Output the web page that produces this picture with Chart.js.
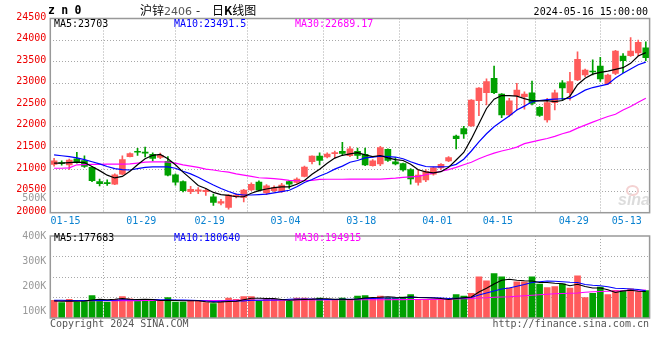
<!DOCTYPE html>
<html><head><meta charset="utf-8">
<script src="https://cdn.jsdelivr.net/npm/chart.js@4"></script>
<style>
html,body{margin:0;padding:0;background:#fff;}
body{width:660px;height:360px;overflow:hidden;position:relative;font-family:"DejaVu Sans Mono",monospace;}
canvas{position:absolute;left:0;}
#c1{top:0;}
#c2{top:226px;}
.t{position:absolute;white-space:pre;font-size:10px;line-height:12px;font-family:"DejaVu Sans Mono",monospace;}
#eye{position:absolute;left:626px;top:185px;width:9px;height:7px;border:2px solid #f4d2d2;border-radius:50%;}
</style></head><body>
<canvas id="c1" width="660" height="230"></canvas>
<canvas id="c2" width="660" height="134"></canvas>
<div id="eye"></div>
<div class="t" style="left:48px;top:3.5px;font-size:11.5px;line-height:13px;font-weight:bold;letter-spacing:-0.3px;">z n 0</div>
<div class="t" style="left:140px;top:3px;font-size:12px;line-height:14px;font-family:'Noto Sans CJK SC';">沪锌<span style="color:#555;font-family:'DejaVu Sans';font-size:11px;">2406</span></div>
<div class="t" style="left:196px;top:3px;font-size:12px;line-height:14px;font-family:'Noto Sans CJK SC';">-</div>
<div class="t" style="left:212px;top:3px;font-size:12px;line-height:14px;font-family:'Noto Sans CJK SC';">日<b>K</b>线图</div>
<div class="t" style="right:12px;top:6px;">2024-05-16 15:00:00</div>
<div class="t" style="left:54px;top:17.5px;color:#000;">MA5:23703</div>
<div class="t" style="left:174px;top:17.5px;color:#0000ff;">MA10:23491.5</div>
<div class="t" style="left:295px;top:17.5px;color:#ff00ff;">MA30:22689.17</div>
<div class="t" style="left:54px;top:232.3px;color:#000;">MA5:177683</div>
<div class="t" style="left:174px;top:232.3px;color:#0000ff;">MA10:180640</div>
<div class="t" style="left:295px;top:232.3px;color:#ff00ff;">MA30:194915</div>
<div class="t" style="left:50px;top:317.5px;color:#555;">Copyright 2024 SINA.COM</div>
<div class="t" style="right:11px;top:317.5px;color:#555;">http://finance.sina.com.cn</div>
<div class="t" style="left:618px;top:191px;font-family:'Liberation Sans';font-size:16px;line-height:18px;font-weight:bold;font-style:italic;color:#dcdcdc;">sina</div>
<script>
const dates = ['2024-01-12','2024-01-15','2024-01-16','2024-01-17','2024-01-18','2024-01-19','2024-01-22','2024-01-23','2024-01-24','2024-01-25',
'2024-01-26','2024-01-29','2024-01-30','2024-01-31','2024-02-01','2024-02-02','2024-02-05','2024-02-06','2024-02-07','2024-02-08',
'2024-02-19','2024-02-20','2024-02-21','2024-02-22','2024-02-23','2024-02-26','2024-02-27','2024-02-28','2024-02-29','2024-03-01',
'2024-03-04','2024-03-05','2024-03-06','2024-03-07','2024-03-08','2024-03-11','2024-03-12','2024-03-13','2024-03-14','2024-03-15',
'2024-03-18','2024-03-19','2024-03-20','2024-03-21','2024-03-22','2024-03-25','2024-03-26','2024-03-27','2024-03-28','2024-03-29',
'2024-04-01','2024-04-02','2024-04-03','2024-04-08','2024-04-09','2024-04-10','2024-04-11','2024-04-12','2024-04-15','2024-04-16',
'2024-04-17','2024-04-18','2024-04-19','2024-04-22','2024-04-23','2024-04-24','2024-04-25','2024-04-26','2024-04-29','2024-04-30',
'2024-05-06','2024-05-07','2024-05-08','2024-05-09','2024-05-10','2024-05-13','2024-05-14','2024-05-15','2024-05-16'];

const open = [21120,21160,21110,21250,21210,21050,20720,20700,20660,20890,
21300,21420,21400,21350,21280,21190,20880,20720,20490,20500,
20490,20370,20220,20120,20370,20355,20525,20710,20460,20510,
20490,20720,20700,20840,21180,21310,21290,21370,21420,21320,
21420,21350,21090,21130,21470,21180,21140,21000,20700,20760,
20890,21035,21200,21775,21950,22010,22595,22780,23115,22750,
22265,22710,22690,22780,22440,22150,22550,23010,22780,23075,
23190,23270,23400,22990,23230,23630,23640,23700,23820];
const close = [21200,21140,21220,21180,21070,20740,20670,20670,20880,21230,
21370,21400,21380,21260,21330,20870,20710,20510,20540,20530,
20520,20240,20260,20410,20410,20525,20660,20520,20620,20580,
20640,20660,20780,21060,21310,21210,21360,21390,21375,21480,
21330,21110,21200,21510,21210,21130,20990,20780,20870,20950,
21040,21120,21275,21715,21825,22610,22885,23040,22780,22265,
22595,22840,22750,22535,22255,22550,22780,22890,23040,23555,
23305,23260,23100,23190,23745,23520,23745,23950,23590];
const high = [21260,21200,21240,21400,21320,21070,20780,20760,20900,21320,
21390,21490,21520,21390,21380,21300,20900,20740,20610,20580,
20560,20430,20310,20420,20440,20540,20690,20740,20650,20620,
20680,20750,20810,21080,21320,21390,21390,21430,21630,21530,
21500,21500,21230,21540,21480,21280,21150,21020,21000,21000,
21060,21140,21300,21800,22000,22620,22900,23100,23400,22760,
22650,23000,22800,23050,22460,22650,22840,23060,23250,23730,
23330,23540,23600,23210,23760,23690,24060,24000,23960];
const low = [21080,21100,21000,21150,21050,20720,20620,20630,20650,20880,
21290,21330,21290,21200,21250,20850,20640,20480,20440,20440,
20400,20170,20180,20080,20340,20250,20510,20500,20420,20480,
20470,20560,20680,20830,21130,21110,21270,21270,21340,21300,
21250,21090,21080,21090,21190,21110,20960,20660,20640,20720,
20870,21000,21180,21480,21720,22000,22250,22500,22760,22200,
22230,22380,22400,22500,22230,22100,22380,22600,22610,23060,
23150,23190,23040,22970,23200,23245,23620,23640,23520];

const ma5 = [21150,21150,21160,21170,21160,21070,20975,20870,20805,20840,
20960,21110,21250,21330,21350,21250,21110,20940,20790,20630,
20560,20470,20420,20400,20370,20370,20450,20510,20550,20580,
20600,20600,20660,20745,20890,21005,21145,21265,21330,21365,
21390,21340,21300,21325,21270,21230,21210,21125,20995,20945,
20925,20950,21050,21220,21395,21710,22060,22415,22630,22715,
22715,22700,22645,22595,22590,22595,22575,22600,22700,22965,
23115,23210,23250,23280,23320,23360,23460,23630,23710];
const ma10 = [21340,21320,21300,21270,21230,21180,21130,21070,21020,21000,
20990,21020,21050,21060,21065,21060,21030,20960,20900,20820,
20730,20640,20560,20490,20430,20410,20410,20420,20430,20460,
20490,20520,20600,20700,20770,20850,20920,21010,21080,21170,
21210,21270,21290,21310,21300,21290,21250,21180,21120,21070,
21060,21060,21070,21120,21240,21430,21640,21830,21990,22120,
22240,22380,22470,22570,22600,22620,22630,22640,22650,22740,
22840,22900,22940,22980,23120,23230,23330,23430,23490];
const ma30 = [21030,21030,21040,21110,21115,21120,21120,21125,21125,21125,
21130,21150,21170,21180,21180,21175,21150,21110,21080,21050,
21010,20990,20960,20940,20900,20870,20840,20810,20800,20790,
20770,20750,20740,20740,20750,20770,20775,20775,20775,20780,
20780,20780,20780,20780,20790,20800,20820,20830,20840,20880,
20920,20960,21000,21050,21110,21170,21250,21320,21380,21430,
21470,21520,21600,21640,21680,21720,21770,21830,21880,21960,
22030,22100,22165,22230,22280,22380,22460,22560,22650];

const vol = [142500,133500,146500,136000,142500,162000,146500,136000,146500,158000,
149000,140000,142500,138600,138600,154000,136000,136000,138600,138600,
133500,129500,138600,151600,146500,158000,158000,138600,146500,146500,
142500,138600,151600,151600,149000,151600,142000,142500,151600,142500,
159400,162000,151600,159400,151600,151600,155500,166000,146500,146500,
146500,146500,146500,166000,159400,171000,236600,221000,249500,236600,
192300,217000,217000,236600,208000,194000,198000,209000,192000,240500,
154000,171000,196000,166000,183000,183000,188400,177000,182000];
const vma5 = [140000,139000,140000,139000,140000,144000,147000,145000,147000,150000,
147000,146000,147000,146000,142000,143000,142000,141000,141000,141000,
137000,135000,136000,138000,139000,145000,151000,151000,150000,150000,
146000,143000,145000,146000,147000,149000,149000,147000,147000,146000,
148000,152000,154000,155000,157000,155000,154000,157000,154000,153000,
152000,150000,146000,150000,153000,156000,176000,191000,208000,223000,
227000,223000,221000,220000,214000,214000,211000,209000,201000,207000,
198000,192000,192000,185000,174000,180000,183000,179000,178000];
const vma10 = [143000,143000,142000,142000,142000,142000,143000,142000,143000,145000,
145000,145000,146000,146000,145000,145000,144000,144000,143000,142000,
140000,138000,139000,140000,140000,140000,143000,143000,144000,144000,
145000,147000,148000,148000,148000,147000,146000,146000,147000,147000,
148000,150000,150000,151000,152000,152000,153000,155000,154000,154000,
153000,152000,150000,151000,152000,154000,164000,172000,180000,188000,
192000,199000,206000,214000,217000,220000,219000,217000,215000,214000,
206000,203000,201000,197000,191000,190000,188000,186000,181000];
const vma30 = [141000,141000,141000,141000,141000,141000,141000,141000,141500,141500,
141500,141500,142000,142000,142000,142000,142000,142000,142000,142000,
142000,142000,142000,142000,142500,142500,142500,143000,143000,143000,
143500,143500,144000,144000,144000,144000,144500,145000,145000,145000,
145000,145000,145000,145000,145000,145500,145500,146000,146000,146000,
146500,147000,147000,148000,149000,150000,152000,153000,155000,156000,
157000,159000,161000,163000,165000,167000,169000,170000,171000,172000,
175000,177000,178000,179000,180000,181000,182000,183000,184000];

const xTickLabels = ['01-15','01-29','02-19','03-04','03-18','04-01','04-15','04-29','05-13'];
const priceTicks = [20000,20500,21000,21500,22000,22500,23000,23500,24000,24500];
const volTickLabels = [100000,200000,300000,400000];
const PRICE_MIN = 20000, PRICE_MAX = 24500;
const VOL_MIN = 72000, VOL_MAX = 400000;
const SIDE_LABEL = {value: 20290, text: '500K'};

const C_UP = '#ff5b5b', C_DN = '#00a000';
const GRID = '#a8a8a8';
const colors = close.map((c, i) => c >= open[i] ? C_UP : C_DN);
const idx = dates.map((d, i) => i);
const FONT = {family: 'DejaVu Sans Mono', size: 10};

const frame = {
  id: 'frame',
  afterDraw(c) {
    const a = c.chartArea, x = c.ctx;
    x.save(); x.strokeStyle = '#999'; x.lineWidth = 1.5;
    x.strokeRect(a.left, a.top, a.right - a.left, a.bottom - a.top);
    x.restore();
  }
};

function xScale(showLabels, h) {
  return {
    type: 'linear', min: -0.5, max: dates.length - 0.5, offset: false,
    afterBuildTicks(s) { s.ticks = xTickLabels.map(l => ({value: dates.indexOf('2024-' + l) + 0.5})); },
    afterFit(s) { s.height = h; },
    grid: {color: GRID, drawTicks: false, lineWidth: 1},
    border: {display: false, dash: [1, 2]},
    ticks: {display: showLabels, autoSkip: false, maxRotation: 0, padding: 3, color: '#0a82d0', font: FONT,
      callback: v => dates[Math.round(v - 0.5)].slice(5)}
  };
}
const lineDs = (data, color) => ({type: 'line', data: idx.map(i => ({x: i, y: data[i]})), borderColor: color,
  borderWidth: 1.2, pointRadius: 0, tension: 0, fill: false, order: 0});

new Chart(document.getElementById('c1'), {
  type: 'bar',
  data: {datasets: [
    lineDs(ma5, '#000000'), lineDs(ma10, '#0000ff'), lineDs(ma30, '#ff00ff'),
    {data: idx.map(i => ({x: i, y: [low[i], high[i]]})), backgroundColor: colors, barThickness: 1, grouped: false, order: 2},
    {data: idx.map(i => ({x: i, y: [open[i], close[i]]})), backgroundColor: colors, barThickness: 6, minBarLength: 1, grouped: false, order: 1}
  ]},
  options: {
    responsive: false, animation: false, events: [],
    layout: {padding: {top: 18.5, right: 10.4, left: 0, bottom: 0}},
    plugins: {legend: {display: false}, tooltip: {enabled: false}},
    scales: {
      x: xScale(true, 17.3),
      y: {
        min: PRICE_MIN, max: PRICE_MAX,
        afterBuildTicks(s) { s.ticks = [...priceTicks, SIDE_LABEL.value].sort((a, b) => a - b).map(v => ({value: v})); },
        afterFit(s) { s.width = 50.3; },
        grid: {drawTicks: false, color: c => (c.tick && (c.tick.value === SIDE_LABEL.value || c.tick.value === PRICE_MIN || c.tick.value === PRICE_MAX)) ? 'rgba(0,0,0,0)' : GRID},
        border: {display: false, dash: [1, 2]},
        ticks: {autoSkip: false, padding: 4, labelOffset: -1.5, font: FONT,
          color: c => c.tick.value === SIDE_LABEL.value ? '#999999' : '#ee0000',
          callback: v => v === SIDE_LABEL.value ? SIDE_LABEL.text : String(v)}
      }
    }
  },
  plugins: [frame]
});

const volGrid = [1, 2, 3].map(k => VOL_MIN + k * (VOL_MAX - VOL_MIN) / 4);
new Chart(document.getElementById('c2'), {
  type: 'bar',
  data: {datasets: [
    lineDs(vma5, '#000000'), lineDs(vma10, '#0000ff'), lineDs(vma30, '#ff00ff'),
    {data: idx.map(i => ({x: i, y: vol[i]})), backgroundColor: colors, barThickness: 6, grouped: false, order: 1}
  ]},
  options: {
    responsive: false, animation: false, events: [],
    layout: {padding: {top: 8.3, right: 10.4, left: 0, bottom: 0}},
    plugins: {legend: {display: false}, tooltip: {enabled: false}},
    scales: {
      x: xScale(false, 42),
      y: {
        min: VOL_MIN, max: VOL_MAX,
        afterBuildTicks(s) { s.ticks = [...volTickLabels, ...volGrid].sort((a, b) => a - b).map(v => ({value: v})); },
        afterFit(s) { s.width = 50.3; },
        grid: {drawTicks: false, color: c => (c.tick && volGrid.includes(c.tick.value)) ? GRID : 'rgba(0,0,0,0)'},
        border: {display: false, dash: [1, 2]},
        ticks: {autoSkip: false, padding: 4, font: FONT, color: '#999999',
          callback: v => volTickLabels.includes(v) ? (v / 1000) + 'K' : ''}
      }
    }
  },
  plugins: [frame]
});
</script>
</body></html>
